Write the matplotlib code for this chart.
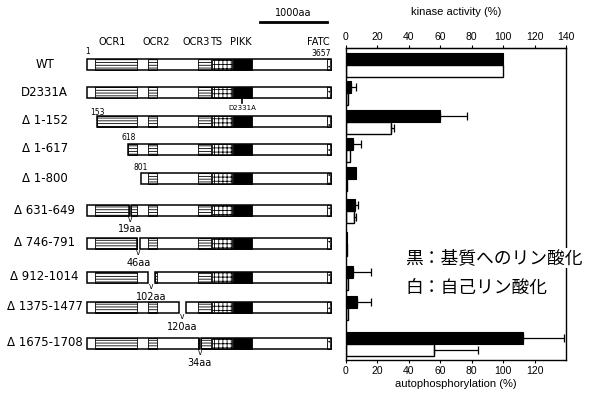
import matplotlib
matplotlib.use('Agg')
import matplotlib.pyplot as plt
from matplotlib.patches import Rectangle
import numpy as np

# ---------------- data ----------------
constructs = ['WT', 'D2331A', 'Δ 1-152', 'Δ 1-617', 'Δ 1-800', 'Δ 631-649',
              'Δ 746-791', 'Δ 912-1014', 'Δ 1375-1477', 'Δ 1675-1708']
starts = [1, 1, 153, 618, 801, 1, 1, 1, 1, 1]
ends = [3657] * 10
deletions = [None, None, None, None, None, (631, 649), (746, 791),
             (912, 1014), (1375, 1477), (1675, 1708)]
gap_labels = ['', '', '', '', '', '19aa', '46aa', '102aa', '120aa', '34aa']

domain_names = ['OCR1', 'OCR2', 'OCR3', 'TS', 'PIKK', 'FATC']
domain_starts = [115, 920, 1667, 1873, 2184, 3597]
domain_ends = [742, 1050, 1858, 2170, 2470, 3657]

substrate = [100, 3.6, 60, 4.7, 6.8, 6.2, 1.0, 4.7, 7.5, 113]
substrate_err = [0, 3.2, 17, 4.9, 0, 1.7, 0, 11.7, 8.5, 26]
autophos = [100, 1.5, 29, 2.6, 1.0, 5.1, 1.2, 1.5, 1.5, 56]
autophos_err = [0, 0, 2, 0, 0, 1.3, 0, 0, 0, 28]

top_ticks = [0, 20, 40, 60, 80, 100, 120, 140]
bottom_ticks = [0, 20, 40, 60, 80, 100, 120]

# ---------------- layout ----------------
W, H = 590, 405
rows_y = [64, 92, 121, 149, 178, 210, 243, 277, 307, 343]  # pixel rows from top
px0, px_per_aa = 87.3, 0.06658
bar_h = 11

plt.rcParams['hatch.linewidth'] = 0.6
fig = plt.figure(figsize=(W / 100, H / 100), dpi=100)
fig.patch.set_facecolor('white')

ax0 = fig.add_axes([0, 0, 1, 1])
ax0.set_xlim(1 - px0 / px_per_aa, 1 + (W - px0) / px_per_aa)
ax0.set_ylim(H, 0)
ax0.axis('off')

hatches = {'OCR1': '------', 'OCR2': '------', 'OCR3': '------',
           'TS': '++++', 'PIKK': None, 'FATC': '....'}
lab_font = 'DejaVu Sans'

for i, name in enumerate(constructs):
    y = rows_y[i]
    s, e = starts[i], ends[i]
    d = deletions[i]
    segs = [(s, e)] if d is None else [(s, d[0] - 1), (d[1] + 1, e)]
    for (a, b) in segs:
        for dn, ds, de in zip(domain_names, domain_starts, domain_ends):
            lo, hi = max(a, ds), min(b, de)
            if hi > lo:
                if dn == 'PIKK':
                    ax0.add_patch(Rectangle((lo, y - bar_h / 2), hi - lo, bar_h,
                                            facecolor='black', edgecolor='black', lw=0.6))
                else:
                    ax0.add_patch(Rectangle((lo, y - bar_h / 2), hi - lo, bar_h,
                                            facecolor='white', edgecolor='black', lw=0.6,
                                            hatch=hatches[dn]))
        ax0.add_patch(Rectangle((a, y - bar_h / 2), b - a, bar_h,
                                facecolor='none', edgecolor='black', lw=1.1))
    ax0.text(-640, y, name, ha='center', va='center', fontsize=8.5,
             family=lab_font, color='black')
    if d is not None:
        c = (d[0] + d[1]) / 2
        ax0.text(c, y + 9.5, 'v', ha='center', va='center', fontsize=5.5, family=lab_font)
        ax0.text(c, y + 19.5, gap_labels[i], ha='center', va='center', fontsize=7,
                 family=lab_font)

# extra annotations on diagrams
ax0.text(1, rows_y[0] - 12, '1', ha='center', va='center', fontsize=5.5, family=lab_font)
ax0.text(3657, rows_y[0] - 11, '3657', ha='right', va='center', fontsize=5.5, family=lab_font)
ax0.text(153, rows_y[2] - 8.5, '153', ha='center', va='center', fontsize=5.5, family=lab_font)
ax0.text(618, rows_y[3] - 12, '618', ha='center', va='center', fontsize=5.5, family=lab_font)
ax0.text(801, rows_y[4] - 11, '801', ha='center', va='center', fontsize=5.5, family=lab_font)
ax0.plot([2331, 2331], [rows_y[1] + bar_h / 2, rows_y[1] + 11], color='black', lw=1.2)
ax0.text(2331, rows_y[1] + 16, 'D2331A', ha='center', va='center', fontsize=5, family=lab_font)

label_x = [380, 1030, 1640, 1940, 2300, 3470]
for dn, lx in zip(domain_names, label_x):
    ax0.text(lx, 42, dn, ha='center', va='center', fontsize=7, family=lab_font)

ax0.plot([2600, 3600], [22, 22], color='black', lw=2)
ax0.text(3100, 13, '1000aa', ha='center', va='center', fontsize=7, family=lab_font)

# ---------------- bar chart ----------------
ax = fig.add_axes([345.5 / W, (H - 360) / H, 220.5 / W, 312 / H])
ax.set_xlim(0, 140)
ax.set_ylim(360, 48)
ry = np.array(rows_y) + 1
bh = 12.3
ax.barh(ry - 6.2, substrate, height=bh, color='black', edgecolor='black', lw=0.8)
ax.barh(ry + 6.2, autophos, height=bh, color='white', edgecolor='black', lw=1.0)
se = np.array(substrate_err)
ae = np.array(autophos_err)
m = se > 0
ax.errorbar(np.array(substrate)[m], (ry - 6.2)[m], xerr=[np.zeros(m.sum()), se[m]],
            fmt='none', ecolor='black', elinewidth=0.9, capsize=3, capthick=0.9)
m2 = ae > 0
ax.errorbar(np.array(autophos)[m2], (ry + 6.2)[m2], xerr=[np.zeros(m2.sum()), ae[m2]],
            fmt='none', ecolor='black', elinewidth=0.9, capsize=3, capthick=0.9)

ax.set_yticks([])
ax.set_xticks(bottom_ticks)
ax.set_xticklabels([str(t) for t in bottom_ticks], fontsize=7.5, family='Liberation Sans')
ax.tick_params(axis='x', length=2.5, width=0.8, pad=2)
ax.set_xlabel('autophosphorylation (%)', fontsize=8, family='Liberation Sans', labelpad=2)
for sp in ax.spines.values():
    sp.set_linewidth(1.0)

sec = ax.secondary_xaxis('top')
sec.set_xticks(top_ticks)
sec.set_xticklabels([str(t) for t in top_ticks], fontsize=7.5, family='Liberation Sans')
sec.tick_params(axis='x', length=2.5, width=0.8, pad=2)
sec.set_xlabel('kinase activity (%)', fontsize=8, family='Liberation Sans', labelpad=12)

# legend texts (Japanese)
jp = ['Noto Sans CJK JP', 'DejaVu Sans']
fig.text(405 / W, 1 - 258 / H, '黒：基質へのリン酸化', fontsize=12.8, family=jp,
         ha='left', va='center', bbox=dict(facecolor='white', edgecolor='none', pad=1))
fig.text(405 / W, 1 - 288 / H, '白：自己リン酸化', fontsize=12.8, family=jp,
         ha='left', va='center', bbox=dict(facecolor='white', edgecolor='none', pad=1))

fig.savefig('out.png', dpi=100, facecolor='white')
